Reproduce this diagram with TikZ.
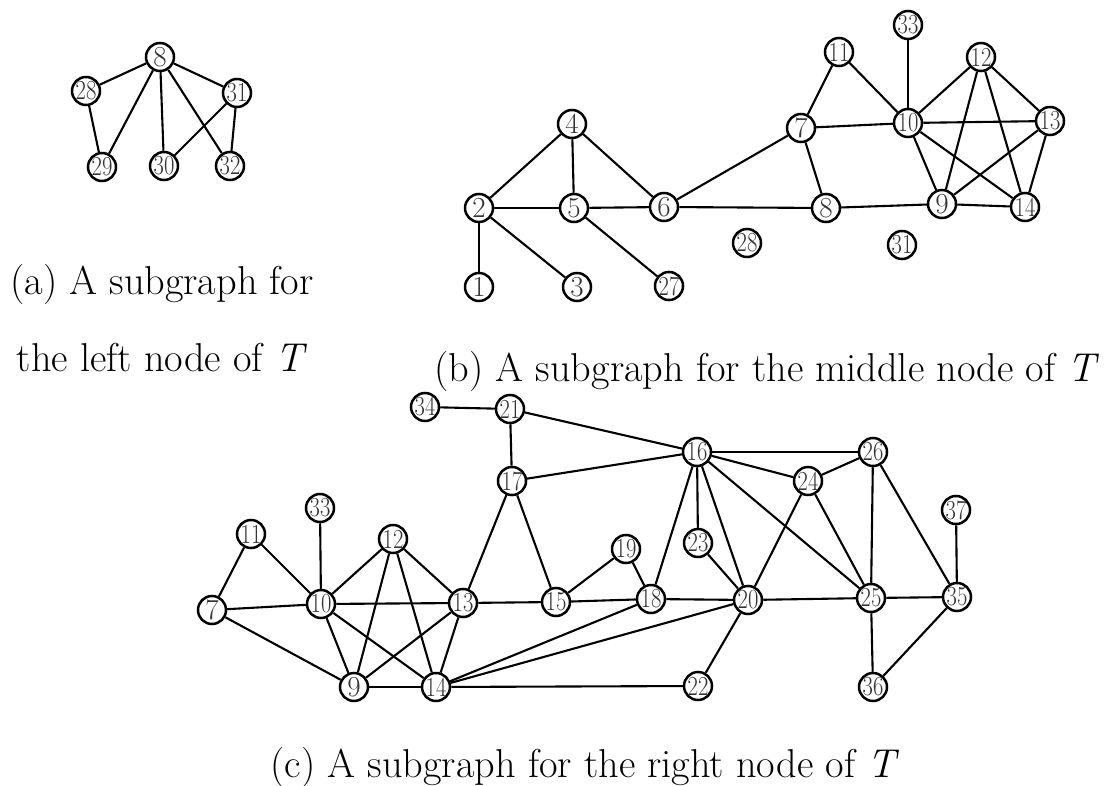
\documentclass[tikz,border=0pt]{standalone}
\newcommand\sq[1]{{\fontsize{27.5}{27.5}\selectfont\scalebox{0.82}[1]{#1}}}
\begin{document}
\begin{tikzpicture}[x=1pt,y=-1pt,
  v/.style={circle, draw, line width=2.5pt, minimum size=28pt, inner sep=0pt,
    font=\fontsize{29}{29}\selectfont, text=black!80, fill=white},
  e/.style={line width=2.1pt},
  captext/.style={font=\fontsize{40.3}{42}\selectfont, inner sep=0pt}]
\useasboundingbox (0,0) rectangle (1105,786);
% ---------- (a) ----------
\node[v] (a8)  at (160,57)  {8};
\node[v] (a28) at (86,91)   {\sq{28}};
\node[v] (a31) at (237,93)  {\sq{31}};
\node[v] (a29) at (102,167) {\sq{29}};
\node[v] (a30) at (164,166) {\sq{30}};
\node[v] (a32) at (230,166) {\sq{32}};
\foreach \s/\t in {a8/a28,a8/a29,a8/a30,a8/a32,a8/a31,a28/a29,a31/a30,a31/a32}
  \draw[e] (\s) -- (\t);
\node[captext] (capa1) at (162,284) {(a) A subgraph for};
\node[captext] (capa2) at (162,358) {the left node of \textit{T}};
% ---------- (b) ----------
\node[v] (b4)  at (572,124) {4};
\node[v] (b2)  at (479,208) {2};
\node[v] (b5)  at (574,208) {5};
\node[v] (b6)  at (664,207) {6};
\node[v] (b1)  at (479,287) {1};
\node[v] (b3)  at (577,287) {3};
\node[v] (b27) at (669,286) {\sq{27}};
\node[v] (b28) at (747,243) {\sq{28}};
\node[v] (b7)  at (801,128) {7};
\node[v] (b11) at (839,52)  {\sq{11}};
\node[v] (b33) at (908,25)  {\sq{33}};
\node[v] (b10) at (908,123) {\sq{10}};
\node[v] (b12) at (981,57)  {\sq{12}};
\node[v] (b13) at (1050,121) {\sq{13}};
\node[v] (b8)  at (826,208) {8};
\node[v] (b9)  at (942,204) {9};
\node[v] (b14) at (1025,207) {\sq{14}};
\node[v] (b31) at (902,245) {\sq{31}};
\foreach \s/\t in {b2/b4,b4/b5,b4/b6,b2/b5,b5/b6,b2/b1,b2/b3,b5/b27,b6/b7,b6/b8,
  b7/b11,b7/b10,b7/b8,b11/b10,b10/b33,b10/b12,b10/b13,b10/b9,b10/b14,b12/b9,
  b12/b14,b12/b13,b13/b9,b13/b14,b8/b9,b9/b14}
  \draw[e] (\s) -- (\t);
\node[captext] (capb) at (767,371) {(b) A subgraph for the middle node of \textit{T}};
% ---------- (c) ----------
\node[v] (c34) at (425,407) {\sq{34}};
\node[v] (c33) at (320,508) {\sq{33}};
\node[v] (c11) at (251,534) {\sq{11}};
\node[v] (c12) at (393,539) {\sq{12}};
\node[v] (c7)  at (212,610) {7};
\node[v] (c10) at (321,604) {\sq{10}};
\node[v] (c13) at (463,603) {\sq{13}};
\node[v] (c9)  at (354,687) {9};
\node[v] (c14) at (436,687) {\sq{14}};
\node[v] (c21) at (510,409) {\sq{21}};
\node[v] (c16) at (697,452) {\sq{16}};
\node[v] (c17) at (512,481) {\sq{17}};
\node[v] (c19) at (626,549) {\sq{19}};
\node[v] (c23) at (698,543) {\sq{23}};
\node[v] (c15) at (556,602) {\sq{15}};
\node[v] (c18) at (651,599) {\sq{18}};
\node[v] (c20) at (748,600) {\sq{20}};
\node[v] (c22) at (698,686) {\sq{22}};
\node[v] (c26) at (873,452) {\sq{26}};
\node[v] (c24) at (808,481) {\sq{24}};
\node[v] (c37) at (956,510) {\sq{37}};
\node[v] (c25) at (871,598) {\sq{25}};
\node[v] (c35) at (957,597) {\sq{35}};
\node[v] (c36) at (873,687) {\sq{36}};
\foreach \s/\t in {c34/c21,c21/c17,c21/c16,c17/c16,c17/c13,c17/c15,c11/c7,c11/c10,
  c7/c10,c7/c9,c33/c10,c10/c12,c10/c13,c10/c9,c10/c14,c12/c9,c12/c14,c12/c13,
  c13/c9,c13/c14,c9/c14,c13/c15,c15/c19,c15/c18,c19/c18,c14/c18,c14/c20,c14/c22,
  c16/c18,c16/c23,c16/c20,c16/c24,c16/c25,c16/c26,c23/c20,c18/c20,c20/c22,
  c20/c24,c20/c25,c24/c26,c24/c25,c26/c25,c26/c35,c25/c35,c25/c36,c35/c36,c37/c35}
  \draw[e] (\s) -- (\t);
\node[captext] (capc) at (585,767) {(c) A subgraph for the right node of \textit{T}};
\end{tikzpicture}
\end{document}
